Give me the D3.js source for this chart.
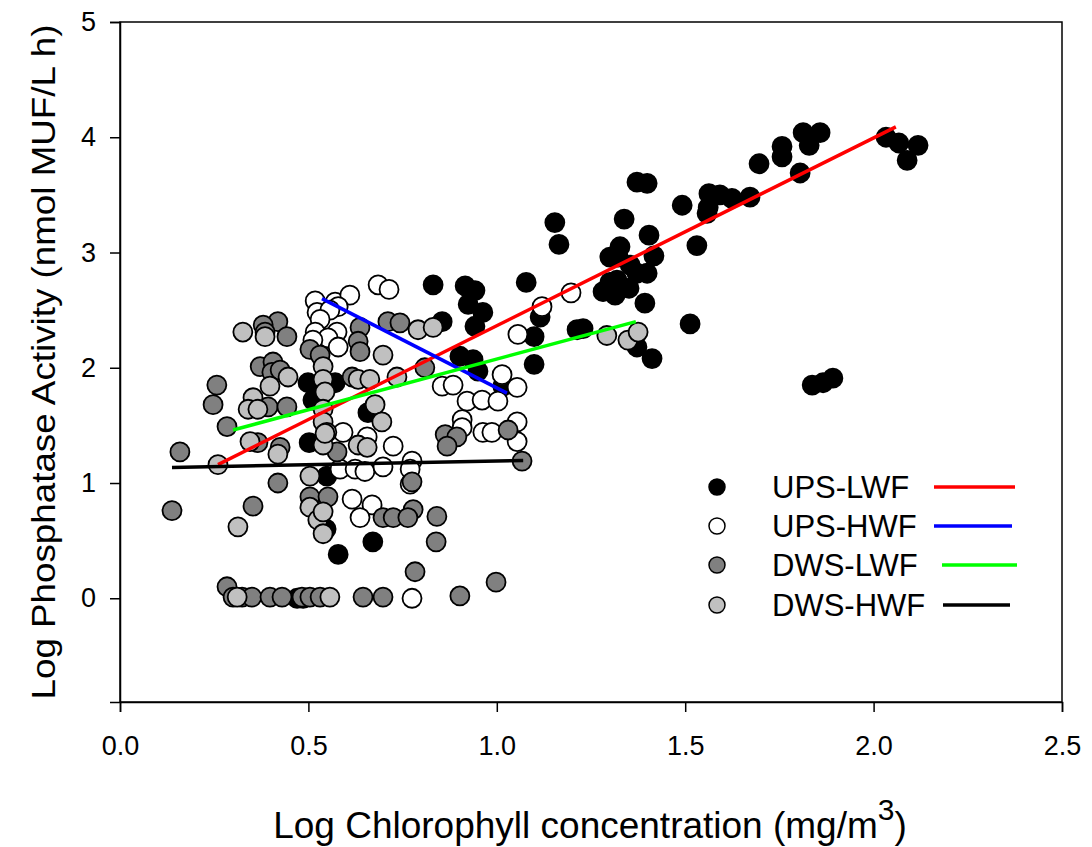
<!DOCTYPE html>
<html><head><meta charset="utf-8">
<script src="https://cdn.jsdelivr.net/npm/d3@7"></script>
<style>body{margin:0;background:#fff;} text{font-family:"Liberation Sans",Arial,sans-serif;}</style>
</head><body>
<svg id="chart" width="1092" height="847"></svg>
<script>
const seriesNames = ["UPS-LWF","UPS-HWF","DWS-LWF","DWS-HWF"];
const xTicks = [0.0,0.5,1.0,1.5,2.0,2.5];
const yTicks = [0,1,2,3,4,5];

const upsLWF = [[1.813,4.04],[1.858,4.04],[1.829,3.93],[1.805,3.69],[1.757,3.92],[1.757,3.83],[2.033,4.00],[2.067,3.95],[2.118,3.93],[2.089,3.80],[1.837,1.85],[1.866,1.87],[1.892,1.91],
[1.696,3.77],[1.372,3.61],[1.399,3.60],[1.563,3.51],[1.592,3.50],[1.624,3.47],[1.672,3.48],[1.492,3.41],[1.561,3.39],[1.558,3.34],[1.154,3.26],[1.338,3.29],[1.165,3.07],[1.404,3.15],[1.531,3.06],[1.327,3.05],[1.300,2.96],[1.322,2.96],[1.417,2.97],[1.354,2.89],[1.372,2.82],[1.399,2.82],[1.319,2.76],[1.300,2.74],[1.282,2.66],[1.314,2.63],[1.351,2.69],[1.393,2.56],[1.078,2.74],[1.115,2.44],[1.099,2.27],[1.213,2.33],[1.229,2.34],[1.513,2.38],[1.372,2.18],[1.412,2.08],[1.099,2.03],
[0.831,2.72],[0.916,2.71],[0.942,2.67],[0.924,2.55],[0.963,2.48],[0.942,2.36],[0.855,2.40],[0.902,2.10],[0.937,2.07],[0.950,1.97],[1.016,1.84],[0.658,1.61],[0.499,1.87],[0.571,1.87],[0.512,1.72],[0.502,1.35],[0.549,1.06],[0.547,0.60],[0.579,0.38],[0.671,0.49],[0.470,0],[0.486,0]];

const upsHWF = [[0.518,2.58],[0.571,2.57],[0.610,2.63],[0.579,2.53],[0.523,2.48],[0.557,2.50],[0.531,2.42],[0.518,2.31],[0.576,2.31],[0.552,2.26],[0.579,2.18],[0.512,2.24],[0.685,2.72],[0.714,2.68],[1.120,2.53],[1.197,2.65],[1.056,2.29],[1.014,1.94],[1.054,1.83],[0.855,1.84],[0.884,1.85],[0.921,1.71],[0.961,1.72],[1.003,1.71],[0.908,1.55],[0.908,1.48],[0.963,1.44],[0.987,1.44],[1.054,1.53],[1.054,1.36],[0.592,1.44],[0.656,1.40],[0.725,1.32],[0.775,1.19],[0.584,1.12],[0.624,1.12],[0.650,1.10],[0.698,1.14],[0.770,1.12],[0.616,0.86],[0.669,0.81],[0.637,0.70],[0.770,0.99],[0.775,0]];

const dwsLWF = [[0.419,2.40],[0.380,2.37],[0.443,2.27],[0.385,2.31],[0.372,2.01],[0.406,2.05],[0.403,1.96],[0.425,1.98],[0.257,1.85],[0.247,1.68],[0.393,1.66],[0.443,1.66],[0.284,1.49],[0.425,1.31],[0.159,1.27],[0.504,2.16],[0.531,2.11],[0.616,1.92],[0.576,1.27],[0.637,2.35],[0.632,2.23],[0.637,2.14],[0.711,2.40],[0.743,2.39],[0.809,2.00],[0.863,1.42],[0.894,1.40],[0.868,1.32],[1.030,1.46],[1.067,1.19],[0.775,1.01],[0.778,0.77],[0.698,0.70],[0.725,0.70],[0.764,0.70],[0.841,0.71],[0.839,0.49],[0.783,0.23],[0.998,0.14],[0.902,0.02],[0.645,0.01],[0.698,0.01],[0.419,1.00],[0.353,0.80],[0.504,0.88],[0.552,0.88],[0.366,1.35],[0.138,0.76],[0.284,0.10],[0.300,0.01],[0.324,0.01],[0.350,0.01],[0.398,0.01],[0.430,0.01],[0.483,0.01],[0.504,0.01],[0.531,0.01]];

const dwsHWF = [[0.326,2.31],[0.385,2.27],[0.398,1.84],[0.353,1.74],[0.340,1.64],[0.366,1.64],[0.446,1.92],[0.345,1.36],[0.419,1.25],[0.260,1.16],[0.539,2.01],[0.539,1.90],[0.544,1.79],[0.539,1.64],[0.539,1.53],[0.549,1.44],[0.539,1.33],[0.632,1.90],[0.663,1.90],[0.791,2.33],[0.831,2.35],[0.698,2.11],[0.735,1.92],[0.677,1.68],[0.695,1.53],[0.632,1.33],[0.656,1.31],[1.292,2.28],[1.348,2.24],[1.375,2.31],[0.504,1.06],[0.313,0.62],[0.504,0.79],[0.525,0.68],[0.539,0.75],[0.539,0.56],[0.544,1.43],[0.557,0.01],[0.311,0.01]];

// regression line endpoints
const fitUpsLWF = [[0.260,1.16],[2.059,4.09]];
const fitUpsHWF = [[0.536,2.60],[1.027,1.78]];
const fitDwsLWF = [[0.300,1.46],[1.369,2.40]];
const fitDwsHWF = [[0.138,1.135],[1.070,1.196]];

const fills = ["#000000","#ffffff","#808080","#c0c0c0"];
const lineColors = ["#ff0000","#0000ff","#00ff00","#000000"];
const pointSets = [upsLWF, upsHWF, dwsLWF, dwsHWF];
const fitSets = [fitUpsLWF, fitUpsHWF, fitDwsLWF, fitDwsHWF];

const svg = d3.select("#chart");
const L = 120, R = 1062, T = 22, B = 702;
const x = d3.scaleLinear().domain([0,2.5]).range([L,R]);
const y = d3.scaleLinear().domain([-0.9,5]).range([B,T]);

// frame
svg.append("rect").attr("x",L).attr("y",T).attr("width",R-L).attr("height",B-T)
  .attr("fill","none").attr("stroke","#000").attr("stroke-width",1.5);

const xAxis = svg.append("g").attr("transform",`translate(0,${B})`)
  .call(d3.axisBottom(x).tickValues(xTicks).tickFormat(d3.format(".1f")).tickSize(10).tickPadding(24));
const yAxis = svg.append("g").attr("transform",`translate(${L},0)`)
  .call(d3.axisLeft(y).tickValues(yTicks).tickFormat(d3.format("d")).tickSize(10).tickPadding(14));
[xAxis,yAxis].forEach(g=>{
  g.select(".domain").attr("stroke","#000").attr("stroke-width",1.5);
  g.selectAll(".tick line").attr("stroke","#000").attr("stroke-width",1.5);
  g.selectAll(".tick text").attr("font-size",27).attr("fill","#000").attr("font-family","Liberation Sans, Arial, sans-serif");
});

// points
pointSets.forEach((pts,i)=>{
  svg.append("g").selectAll("circle").data(pts).join("circle")
    .attr("cx",d=>x(d[0])).attr("cy",d=>y(d[1])).attr("r",9.5)
    .attr("fill",fills[i]).attr("stroke","#000").attr("stroke-width",1.8);
});

// fit lines
const line = d3.line().x(d=>x(d[0])).y(d=>y(d[1]));
fitSets.forEach((f,i)=>{
  svg.append("path").datum(f).attr("d",line).attr("fill","none")
    .attr("stroke",lineColors[i]).attr("stroke-width",3.5);
});

// legend
const legY = [487,526,565,605];
const legLineX = [[934,1015],[934,1012],[942,1017],[943,1010]];
const leg = svg.append("g");
seriesNames.forEach((n,i)=>{
  leg.append("circle").attr("cx",717).attr("cy",legY[i]).attr("r",8)
    .attr("fill",fills[i]).attr("stroke","#000").attr("stroke-width",1.5);
  leg.append("text").attr("x",772).attr("y",legY[i]).attr("dy","0.36em")
    .attr("font-size",31).attr("fill","#000").text(n);
  leg.append("line").attr("x1",legLineX[i][0]).attr("x2",legLineX[i][1])
    .attr("y1",legY[i]).attr("y2",legY[i]).attr("stroke",lineColors[i]).attr("stroke-width",3.5);
});

// axis titles
svg.append("text").attr("transform","translate(55,362) rotate(-90)")
  .attr("text-anchor","middle").attr("font-size",34).attr("fill","#000")
  .attr("textLength",675).attr("lengthAdjust","spacingAndGlyphs")
  .text("Log Phosphatase Activity (nmol MUF/L h)");
const xt = svg.append("text").attr("x",590).attr("y",838).attr("text-anchor","middle")
  .attr("font-size",37).attr("fill","#000");
xt.append("tspan").text("Log Chlorophyll concentration (mg/m");
xt.append("tspan").attr("dy",-18).attr("font-size",30).text("3");
xt.append("tspan").attr("dy",18).text(")");
</script>
</body></html>
